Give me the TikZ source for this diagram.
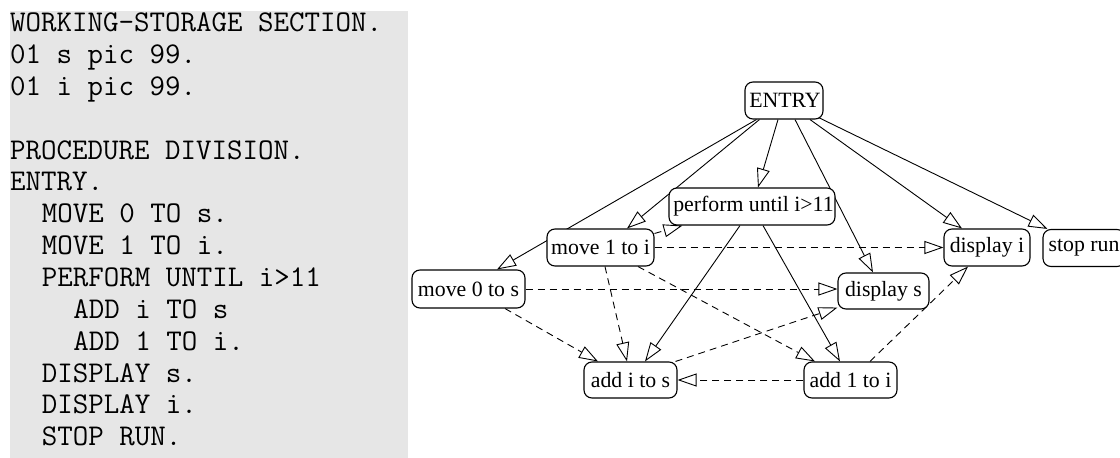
\documentclass[tikz,border=0pt]{standalone}
\usepackage{fontspec}
\setmainfont{Liberation Serif}
\usetikzlibrary{arrows.meta,backgrounds}
\definecolor{codebg}{RGB}{230,230,230}
\begin{document}
\begin{tikzpicture}[x=1pt,y=-1pt,
  codeline/.style={anchor=base west, inner sep=0pt, font=\ttfamily\fontsize{30.1}{31.85}\selectfont},
  blk/.style={draw, rounded corners=8pt, fill=white, line width=1.1pt, minimum height=37pt, inner sep=0pt, font=\fontsize{21.8}{21.8}\selectfont},
  edge/.style={-{Triangle[open,length=19pt,width=13pt]}, line width=0.9pt},
  dedge/.style={edge, dash pattern=on 7pt off 5pt}]
\useasboundingbox (0,0) rectangle (1120,458);
\fill[codebg] (10,11) rectangle (408,458);
% code listing
\node[codeline] (c1) at (10,31.7) {WORKING-STORAGE SECTION.};
\node[codeline] (c2) at (10,63.55) {01 s pic 99.};
\node[codeline] (c3) at (10,95.4) {01 i pic 99.};
\node[codeline] (c5) at (10,159.1) {PROCEDURE DIVISION.};
\node[codeline] (c6) at (10,190.95) {ENTRY.};
\node[codeline] (c7) at (41.6,222.8) {MOVE 0 TO s.};
\node[codeline] (c8) at (41.6,254.65) {MOVE 1 TO i.};
\node[codeline] (c9) at (41.6,286.5) {PERFORM UNTIL i>11};
\node[codeline] (c10) at (73.2,318.35) {ADD i TO s};
\node[codeline] (c11) at (73.2,350.2) {ADD 1 TO i.};
\node[codeline] (c12) at (41.6,382.05) {DISPLAY s.};
\node[codeline] (c13) at (41.6,413.9) {DISPLAY i.};
\node[codeline] (c14) at (41.6,445.75) {STOP RUN.};
% graph nodes
\node[blk, minimum width=78pt] (entry) at (784,100.5) {\hspace{2pt}ENTRY};
\node[blk, minimum width=166pt] (perf) at (752,206.5) {\hspace{3pt}perform until i>11};
\node[blk, minimum width=107pt] (m1) at (600.5,247.5) {move 1 to i};
\node[blk, minimum width=86pt] (di) at (987,247.5) {display i};
\node[blk, minimum width=82pt] (stop) at (1084,248) {stop run};
\node[blk, minimum width=113pt, minimum height=38pt] (m0) at (468.5,289) {move 0 to s};
\node[blk, minimum width=91pt, minimum height=36pt] (ds) at (883.5,291) {display s};
\node[blk, minimum width=93pt, minimum height=36pt] (ais) at (630.5,380) {add i to s};
\node[blk, minimum width=93pt, minimum height=36pt] (a1i) at (850.5,380) {add 1 to i};
% edges
\begin{scope}[on background layer]
\draw[edge] ([xshift=12pt]entry.south west) -- ([xshift=28.5pt]m0.north);
\draw[edge] ([xshift=15pt]entry.south west) -- ([xshift=26.5pt]m1.north);
\draw[edge] ([xshift=-6pt]entry.south) -- ([xshift=6pt]perf.north);
\draw[edge] ([xshift=11pt]entry.south) -- ([xshift=-10.5pt]ds.north);
\draw[edge] ([xshift=26pt]entry.south) -- ([xshift=-25pt]di.north);
\draw[edge] ([xshift=-5pt,yshift=2pt]entry.south east) -- ([xshift=5pt]stop.north west);
\draw[dedge] ([yshift=-5pt]m1.north east) -- ([xshift=14pt]perf.south west);
\draw[dedge] (m1.east) -- (di.west);
\draw[dedge] (m0.east) -- (m0.east -| ds.west);
\draw[dedge] ([xshift=36.5pt]m0.south) -- ([xshift=-32.5pt]ais.north);
\draw[dedge] ([xshift=4.5pt]m1.south) -- ([xshift=-3.5pt]ais.north);
\draw[edge] ([xshift=-12pt]perf.south) -- ([xshift=14.5pt]ais.north);
\draw[edge] ([xshift=11pt]perf.south) -- ([xshift=-10.5pt]a1i.north);
\draw[dedge] ([xshift=37.5pt]m1.south) -- ([xshift=-35.5pt]a1i.north);
\draw[dedge] ([xshift=-2pt]ais.north east) -- ([yshift=2pt]ds.south west);
\draw[dedge] (a1i.west) -- (ais.east);
\draw[dedge] ([xshift=19.5pt]a1i.north) -- ([xshift=-19pt]di.south);
\end{scope}
\end{tikzpicture}
\end{document}
